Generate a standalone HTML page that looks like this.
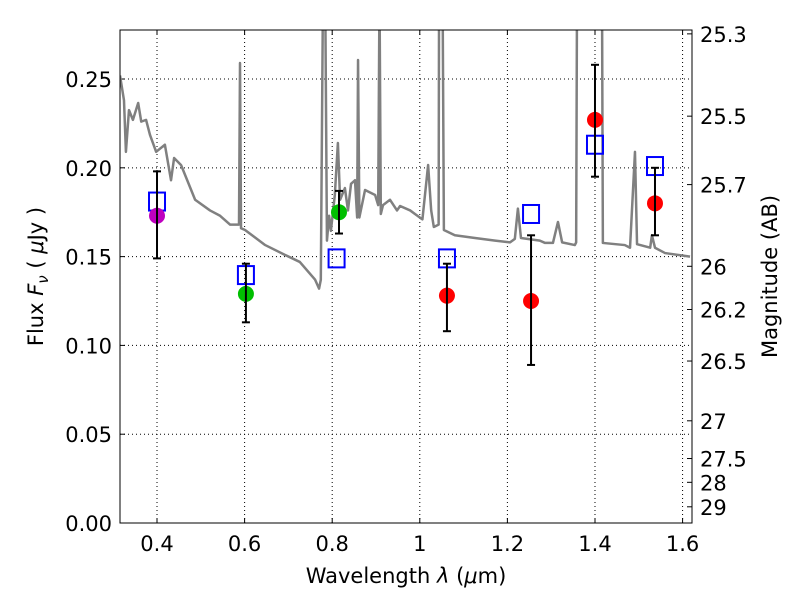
<!DOCTYPE html>
<html><head><meta charset="utf-8"><style>
body{margin:0;background:#fff}
svg{display:block;font-family:"DejaVu Sans","Liberation Sans",sans-serif}
</style></head><body>
<svg id="chart" width="800" height="600" viewBox="0 0 800 600" xmlns="http://www.w3.org/2000/svg"></svg>
<script>
const xTicks = [0.4, 0.6, 0.8, 1.0, 1.2, 1.4, 1.6];
const xTickLabels = ["0.4","0.6","0.8","1","1.2","1.4","1.6"];
const yTicks = [0, 0.05, 0.10, 0.15, 0.20, 0.25];
const yTickLabels = ["0.00","0.05","0.10","0.15","0.20","0.25"];
const magTicks = [25.3, 25.5, 25.7, 26, 26.2, 26.5, 27, 27.5, 28, 29];
const magTickLabels = ["25.3","25.5","25.7","26","26.2","26.5","27","27.5","28","29"];
const specWl = [0.3155,0.3246,0.329,0.336,0.345,0.357,0.364,0.375,0.384,0.398,0.418,0.432,0.439,0.455,0.487,0.521,0.544,0.567,0.58,0.5872,0.5895,0.5918,0.601,0.647,0.692,0.726,0.761,0.77,0.774,0.779,0.784,0.788,0.793,0.797,0.806,0.813,0.818,0.829,0.836,0.843,0.852,0.857,0.859,0.862,0.875,0.898,0.905,0.908,0.911,0.916,0.932,0.948,0.955,0.978,0.989,1.0,1.006,1.019,1.026,1.032,1.043,1.044,1.052,1.055,1.08,1.126,1.172,1.206,1.217,1.224,1.231,1.274,1.286,1.304,1.3155,1.325,1.354,1.357,1.359,1.413,1.416,1.418,1.468,1.48,1.4913,1.496,1.526,1.53,1.537,1.56,1.617];
const specFlux = [0.252,0.238,0.209,0.2325,0.227,0.2365,0.226,0.227,0.2185,0.209,0.213,0.193,0.2055,0.2015,0.182,0.176,0.173,0.168,0.168,0.168,0.259,0.166,0.165,0.1565,0.151,0.147,0.137,0.132,0.137,0.30,0.30,0.159,0.173,0.1645,0.1847,0.214,0.182,0.1886,0.176,0.191,0.193,0.172,0.2607,0.172,0.1875,0.1847,0.179,0.30,0.174,0.179,0.182,0.176,0.1785,0.176,0.174,0.172,0.171,0.2016,0.176,0.1667,0.168,0.30,0.30,0.165,0.162,0.1605,0.159,0.158,0.160,0.177,0.1605,0.159,0.1577,0.1577,0.1695,0.158,0.1565,0.158,0.30,0.30,0.30,0.1577,0.1565,0.155,0.209,0.157,0.155,0.162,0.155,0.152,0.150];
const ptWl = [0.40, 0.603, 0.8155, 1.062, 1.254, 1.40, 1.537];
const ptFlux = [0.173, 0.129, 0.175, 0.128, 0.125, 0.227, 0.180];
const ptErrLo = [0.149, 0.113, 0.163, 0.108, 0.089, 0.195, 0.162];
const ptErrHi = [0.198, 0.146, 0.187, 0.146, 0.162, 0.258, 0.200];
const ptColors = ["#bf00bf","#00bf00","#00bf00","#ff0000","#ff0000","#ff0000","#ff0000"];
const sqWl = [0.40, 0.603, 0.81, 1.062, 1.254, 1.40, 1.537];
const sqFlux = [0.181, 0.1396, 0.149, 0.149, 0.174, 0.213, 0.201];

const L=120,R=692,T=30,B=523, X0=0.3155,X1=1.6215,Y0=0,Y1=0.2776;
const sx=v=>L+(v-X0)/(X1-X0)*(R-L);
const sy=v=>B-(v-Y0)/(Y1-Y0)*(B-T);
const NS="http://www.w3.org/2000/svg";
const svg=document.getElementById('chart');
function mk(tag,attrs,parent){const e=document.createElementNS(NS,tag);for(const k in attrs)e.setAttribute(k,attrs[k]);(parent||svg).appendChild(e);return e;}

const clip=mk('clipPath',{id:'pc'});mk('rect',{x:L,y:T,width:R-L,height:B-T},clip);

xTicks.forEach((v,i)=>{
  const g=mk('line',{x1:sx(v),x2:sx(v),y1:T,y2:B,stroke:'#000','stroke-width':1,'stroke-dasharray':'1,3'});
  
  
  mk('line',{x1:sx(v),x2:sx(v),y1:B,y2:B-5,stroke:'#000'});
  mk('line',{x1:sx(v),x2:sx(v),y1:T,y2:T+5,stroke:'#000'});
  const t=mk('text',{x:sx(v),y:B+28,'text-anchor':'middle','font-size':21});t.textContent=xTickLabels[i];
  
  
});
yTicks.forEach((v,i)=>{
  const g=mk('line',{x1:L,x2:R,y1:sy(v),y2:sy(v),stroke:'#000','stroke-width':1,'stroke-dasharray':'1,3'});
  
  
  mk('line',{x1:L,x2:L+5,y1:sy(v),y2:sy(v),stroke:'#000'});
  const t=mk('text',{x:L-8,y:sy(v)+8,'text-anchor':'end','font-size':21});t.textContent=yTickLabels[i];
  
  
});
magTicks.forEach((m,i)=>{
  const f=Math.pow(10,(23.9-m)/2.5);
  mk('line',{x1:R,x2:R-5,y1:sy(f),y2:sy(f),stroke:'#000'});
  const t=mk('text',{x:R+8,y:sy(f)+8,'font-size':21});t.textContent=magTickLabels[i];
  
  
});

const g=mk('g',{'clip-path':'url(#pc)'});
const sp=mk('polyline',{points:specWl.map((w,i)=>sx(w)+','+sy(specFlux[i])).join(' '),fill:'none',stroke:'#808080','stroke-width':2.5,'stroke-linejoin':'round'},g);



sqWl.forEach((w,i)=>{
  const r=mk('rect',{x:sx(w)-8,y:sy(sqFlux[i])-9,width:16,height:18,fill:'none',stroke:'#0000ff','stroke-width':2},g);
  
  
});
ptWl.forEach((w,i)=>{
  const x=sx(w);
  const c=mk('circle',{cx:x,cy:sy(ptFlux[i]),r:8,fill:ptColors[i]},g);
  
  
  const e=mk('g',{stroke:'#000','stroke-width':2},g);
  
  
  mk('line',{x1:x,x2:x,y1:sy(ptErrLo[i]),y2:sy(ptErrHi[i])},e);
  mk('line',{x1:x-4,x2:x+4,y1:sy(ptErrLo[i]),y2:sy(ptErrLo[i])},e);
  mk('line',{x1:x-4,x2:x+4,y1:sy(ptErrHi[i]),y2:sy(ptErrHi[i])},e);
});

const fr=mk('rect',{x:L,y:T,width:R-L,height:B-T,fill:'none',stroke:'#000','stroke-width':1});



const xl=mk('text',{x:(L+R)/2,y:583,'text-anchor':'middle','font-size':21});
xl.innerHTML='Wavelength  <tspan font-style="italic">λ</tspan> (<tspan font-style="italic">μ</tspan>m)';


const yl=mk('text',{x:0,y:0,'text-anchor':'middle','font-size':21,transform:'translate(43,'+((T+B)/2)+') rotate(-90)'});
yl.innerHTML='Flux  <tspan font-style="italic">F</tspan><tspan font-style="italic" font-size="15" dy="5">ν</tspan><tspan dy="-5">  (  </tspan><tspan font-style="italic">μ</tspan>Jy )';


const yr=mk('text',{x:0,y:0,'text-anchor':'middle','font-size':21,transform:'translate(777,'+((T+B)/2)+') rotate(-90)'});
yr.textContent='Magnitude (AB)';


</script>
</body></html>
